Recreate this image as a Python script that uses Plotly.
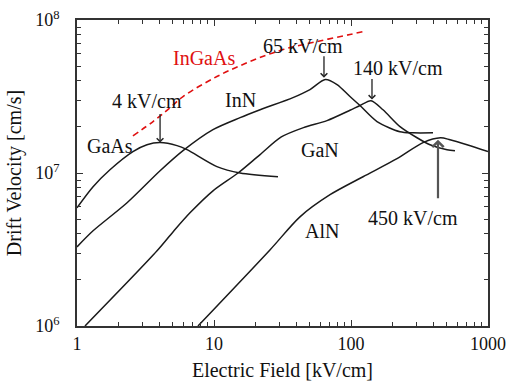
import plotly.graph_objects as go
import numpy as np

# ---- data (E in kV/cm, v in cm/s) ----
gaas_E = [1.0, 1.31, 1.74, 2.56, 3.24, 4.04, 5.37, 6.35, 10.5, 15.5, 29.3]
gaas_v = [5.92e6, 8.13e6, 1.05e7, 1.38e7, 1.53e7, 1.58e7, 1.51e7, 1.42e7, 1.10e7, 1.00e7, 9.45e6]

inn_E = [1.0, 1.31, 2.32, 4.04, 5.94, 9.83, 15.5, 21.7, 37.7, 50.2, 65.0, 79.1, 98.3, 116.3, 154.8, 227.9, 283.6, 396.8]
inn_v = [3.29e6, 4.19e6, 6.39e6, 1.034e7, 1.40e7, 1.92e7, 2.30e7, 2.59e7, 3.11e7, 3.51e7, 4.08e7, 3.78e7, 3.16e7, 2.76e7, 2.17e7, 1.86e7, 1.83e7, 1.83e7]

gan_E = [1.144, 3.84, 5.02, 6.68, 9.83, 14.97, 21.7, 31.0, 45.0, 66.8, 98.3, 116.3, 140.0, 171.2, 227.9, 303.3, 377.3, 502.1, 574.0]
gan_v = [1.0e6, 3.10e6, 4.12e6, 5.49e6, 7.65e6, 1.00e7, 1.32e7, 1.72e7, 1.98e7, 2.20e7, 2.57e7, 2.76e7, 2.97e7, 2.59e7, 2.01e7, 1.70e7, 1.53e7, 1.42e7, 1.40e7]

aln_E = [7.64, 25.6, 42.4, 70.3, 122.4, 216.7, 335.4, 450.0, 528.0, 702.6, 1000.0]
aln_v = [1.0e6, 3.14e6, 5.17e6, 7.21e6, 9.45e6, 1.24e7, 1.58e7, 1.70e7, 1.65e7, 1.53e7, 1.38e7]

ingaas_E = [2.56, 3.59, 4.77, 5.94, 10.5, 18.3, 31.9, 56.5, 98.3, 122.4]
ingaas_v = [1.75e7, 2.17e7, 2.67e7, 3.16e7, 4.27e7, 5.35e7, 6.41e7, 7.23e7, 8.04e7, 8.41e7]

x_ticks = [1, 10, 100, 1000]
x_ticktext = ["1", "10", "100", "1000"]
y_ticks = [1e6, 1e7, 1e8]
y_ticktext = ["10<sup>6</sup>", "10<sup>7</sup>", "10<sup>8</sup>"]

# labels: (text, E, v, color)
labels = [
    ("InGaAs", 8.45, 5.68e7, "#e01010"),
    ("4 kV/cm", 3.27, 2.97e7, "#111"),
    ("65 kV/cm", 44.6, 6.8e7, "#111"),
    ("140 kV/cm", 220.0, 4.89e7, "#111"),
    ("InN", 15.5, 3.02e7, "#111"),
    ("GaAs", 1.74, 1.51e7, "#111"),
    ("GaN", 59.4, 1.42e7, "#111"),
    ("AlN", 61.4, 4.19e6, "#111"),
    ("450 kV/cm", 283.6, 5.09e6, "#111"),
]
# arrows: (E tip, v tip, ay offset px, color, width)
arrows = [
    (4.04, 1.58e7, -30, "#222", 1.3),
    (63.5, 4.2e7, -23, "#222", 1.3),
    (142.3, 3.02e7, -22, "#222", 1.3),
    (431.5, 1.65e7, 60, "#555", 2.2),
]

FONT = "Liberation Serif"
fig = go.Figure()
for E, v in [(gaas_E, gaas_v), (inn_E, inn_v), (gan_E, gan_v), (aln_E, aln_v)]:
    fig.add_trace(go.Scatter(x=E, y=v, mode="lines",
                             line=dict(color="#1a1a1a", width=1.5, shape="spline", smoothing=0.8),
                             showlegend=False, hoverinfo="skip"))
fig.add_trace(go.Scatter(x=ingaas_E, y=ingaas_v, mode="lines",
                         line=dict(color="#e01010", width=1.6, dash="6px,4px", shape="spline"),
                         showlegend=False, hoverinfo="skip"))

for t, E, v, c in labels:
    fig.add_annotation(x=np.log10(E), y=np.log10(v), text=t, showarrow=False,
                       font=dict(family=FONT, size=20, color=c), xanchor="center", yanchor="middle")
for E, v, ay, c, w in arrows:
    fig.add_annotation(x=np.log10(E), y=np.log10(v), text="", showarrow=True, ax=0, ay=ay,
                       arrowhead=4, arrowsize=1.0, arrowwidth=w, arrowcolor=c)

minor_x = [m * 10 ** d for d in range(0, 3) for m in range(2, 10)]
minor_y = [m * 10 ** d for d in range(6, 8) for m in range(2, 10)]

axcommon = dict(type="log", showgrid=False, zeroline=False, showline=True, linecolor="#333",
                linewidth=1.8, mirror="allticks", ticks="inside", ticklen=6, tickwidth=1.2,
                tickcolor="#333", tickmode="array", automargin=False,
                tickfont=dict(family=FONT, size=18, color="#111"))
fig.update_xaxes(**axcommon, range=[0, 3], tickvals=x_ticks, ticktext=x_ticktext,
                 minor=dict(tickmode="array", tickvals=minor_x, ticks="inside", ticklen=4,
                            tickcolor="#333", tickwidth=1),
                 title=dict(text="Electric Field [kV/cm]", font=dict(family=FONT, size=20, color="#111"),
                            standoff=10))
fig.update_yaxes(**axcommon, range=[6, 8], tickvals=y_ticks, ticktext=y_ticktext,
                 minor=dict(tickmode="array", tickvals=minor_y, ticks="inside", ticklen=4,
                            tickcolor="#333", tickwidth=1),
                 ticklabelstandoff=12,
                 title=dict(text="Drift Velocity [cm/s]", font=dict(family=FONT, size=20, color="#111"),
                            standoff=8))
fig.update_layout(width=508, height=383, margin=dict(l=77, r=20, t=20, b=57),
                  plot_bgcolor="white", paper_bgcolor="white")
fig.write_html("out.html")
